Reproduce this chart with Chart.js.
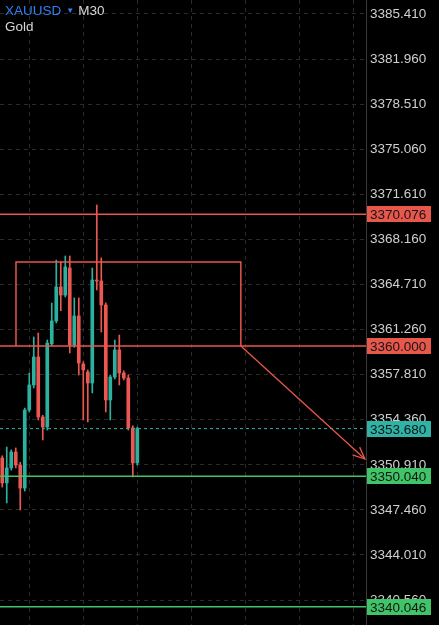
<!DOCTYPE html>
<html>
<head>
<meta charset="utf-8">
<script src="https://cdn.jsdelivr.net/npm/chart.js@4.4.0/dist/chart.umd.min.js"></script>
<style>
  html, body { margin: 0; padding: 0; background: #000; }
  #wrap { position: relative; width: 439px; height: 625px; overflow: hidden; }
  #header {
    position: absolute; left: 5px; top: 3px;
    font-family: "Liberation Sans", Roboto, sans-serif;
    font-size: 13.5px; line-height: 16px; color: #d8d8d8;
  }
  #header .sym { color: #2f80f5; }
  #header .caret { color: #2f80f5; font-size: 8px; margin: 0 4px 0 5px; vertical-align: 2px; }
</style>
</head>
<body>
<div id="wrap">
  <canvas id="chart" width="439" height="625"></canvas>
  <div id="header"><span class="sym">XAUUSD</span><span class="caret">▼</span>M30<br>Gold</div>
</div>

<script>
// --- XAUUSD M30 candles ---
const opens  = [3351.43, 3349.52, 3350.67, 3351.89, 3350.89, 3349.13, 3355.10, 3357.02, 3359.16, 3354.57,
                3353.80, 3360.16, 3361.92, 3364.52, 3363.90, 3365.97, 3360.08, 3362.30, 3358.62, 3358.01,
                3357.17, 3365.05, 3364.98, 3363.14, 3355.87, 3357.63, 3359.70, 3357.94, 3357.55, 3353.73, 3351.05];
const highs  = [3351.60, 3352.27, 3352.05, 3352.20, 3351.10, 3355.25, 3357.94, 3360.69, 3361.00, 3354.70,
                3360.46, 3363.29, 3366.58, 3366.43, 3366.89, 3366.89, 3363.68, 3363.68, 3358.80, 3358.17,
                3365.97, 3370.79, 3366.74, 3363.30, 3357.78, 3360.46, 3360.84, 3358.10, 3357.78, 3353.90, 3353.80];
const lows   = [3349.21, 3347.99, 3350.50, 3350.67, 3347.45, 3348.90, 3354.95, 3356.80, 3354.34, 3352.81,
                3353.57, 3360.00, 3361.77, 3362.70, 3363.75, 3359.47, 3359.90, 3357.78, 3354.34, 3354.19,
                3356.41, 3364.29, 3361.07, 3354.95, 3354.34, 3357.47, 3357.02, 3357.40, 3353.57, 3349.98, 3350.89];
const closes = [3349.52, 3350.67, 3351.89, 3350.89, 3349.13, 3355.10, 3357.02, 3359.16, 3354.57, 3353.80,
                3360.23, 3361.92, 3364.52, 3363.90, 3366.05, 3360.08, 3362.30, 3358.70, 3358.17, 3357.17,
                3365.05, 3364.98, 3363.14, 3355.87, 3357.63, 3359.70, 3357.94, 3357.55, 3353.73, 3351.05, 3353.68];

// horizontal levels + their price tags
const levelValues = [3370.076, 3360.000, 3353.680, 3350.040, 3340.046];
const levelColors = ['#e8574c', '#e8574c', '#2fb3a6', '#3fc468', '#3fc468'];
const levelDashed = [false, false, true, false, false];

// drawn zone (box) and projected arrow, in bar index / price units
const zoneX = [3.05, 53];
const zoneY = [3360.000, 3366.43];
const arrowX = [53, 80.55];
const arrowY = [3360.000, 3351.35];

// axes
const yTickValues = [3340.56, 3344.01, 3347.46, 3350.91, 3354.36, 3357.81, 3361.26,
                     3364.71, 3368.16, 3371.61, 3375.06, 3378.51, 3381.96, 3385.41];
const xGridValues = [6, 18, 30, 42, 54, 66, 78];
const xRange = [-0.5, 80.8];
const yRange = [3338.65, 3386.48];

const UP = '#2bb19f';
const DOWN = '#ec5851';
const GRID = '#2a2a2a';

const idx = opens.map((_, i) => i);
const candleColors = idx.map(i => closes[i] >= opens[i] ? UP : DOWN);

const datasets = [];

// level lines
levelValues.forEach((v, i) => {
    datasets.push({
        type: 'line',
        data: [{ x: xRange[0], y: v }, { x: xRange[1], y: v }],
        borderColor: levelColors[i],
        borderWidth: levelDashed[i] ? 1 : 1.5,
        borderDash: levelDashed[i] ? [3, 3] : [],
        pointRadius: 0,
        tension: 0
    });
});

// zone outline
datasets.push({
    type: 'line',
    data: [
        { x: zoneX[0], y: zoneY[0] }, { x: zoneX[0], y: zoneY[1] },
        { x: zoneX[1], y: zoneY[1] }, { x: zoneX[1], y: zoneY[0] }
    ],
    borderColor: '#e8574c',
    borderWidth: 1.5,
    pointRadius: 0,
    tension: 0
});

// arrow shaft
datasets.push({
    type: 'line',
    data: [{ x: arrowX[0], y: arrowY[0] }, { x: arrowX[1], y: arrowY[1] }],
    borderColor: '#e8574c',
    borderWidth: 1.3,
    pointRadius: 0,
    tension: 0
});

// candle bodies
datasets.push({
    type: 'bar',
    data: idx.map(i => ({ x: i, y: [opens[i], closes[i]] })),
    backgroundColor: candleColors,
    barThickness: 3,
    grouped: false
});

// candle wicks
datasets.push({
    type: 'bar',
    data: idx.map(i => ({ x: i, y: [lows[i], highs[i]] })),
    backgroundColor: candleColors,
    barThickness: 1,
    grouped: false
});

// price tags and arrow head on top of everything
const overlayPlugin = {
    id: 'overlay',
    afterDraw(chart) {
        const { ctx, chartArea, scales } = chart;

        // arrow head
        const x1 = scales.x.getPixelForValue(arrowX[0]);
        const y1 = scales.y.getPixelForValue(arrowY[0]);
        const x2 = scales.x.getPixelForValue(arrowX[1]);
        const y2 = scales.y.getPixelForValue(arrowY[1]);
        const ang = Math.atan2(y2 - y1, x2 - x1);
        const len = 13;
        ctx.save();
        ctx.strokeStyle = '#e8574c';
        ctx.lineWidth = 1.3;
        ctx.beginPath();
        ctx.moveTo(x2 - len * Math.cos(ang - 0.42), y2 - len * Math.sin(ang - 0.42));
        ctx.lineTo(x2, y2);
        ctx.lineTo(x2 - len * Math.cos(ang + 0.42), y2 - len * Math.sin(ang + 0.42));
        ctx.stroke();
        ctx.restore();

        // price tags
        ctx.save();
        ctx.font = '13.5px "Liberation Sans", Roboto, sans-serif';
        ctx.textBaseline = 'middle';
        ctx.textAlign = 'left';
        levelValues.forEach((v, i) => {
            const y = Math.round(scales.y.getPixelForValue(v));
            ctx.fillStyle = levelColors[i];
            ctx.fillRect(chartArea.right + 1, y - 8, 64, 16);
            ctx.fillStyle = '#141414';
            ctx.fillText(v.toFixed(3), chartArea.right + 4, y + 1);
        });
        ctx.restore();
    }
};

const bgPlugin = {
    id: 'bg',
    beforeDraw(chart) {
        const { ctx, width, height } = chart;
        ctx.save();
        ctx.fillStyle = '#000';
        ctx.fillRect(0, 0, width, height);
        ctx.restore();
    }
};

new Chart(document.getElementById('chart'), {
    type: 'bar',
    data: { datasets: datasets },
    options: {
        responsive: false,
        animation: false,
        layout: { padding: 0 },
        plugins: { legend: { display: false }, tooltip: { enabled: false } },
        scales: {
            x: {
                type: 'linear',
                min: xRange[0],
                max: xRange[1],
                offset: false,
                afterBuildTicks: (scale) => { scale.ticks = xGridValues.map(v => ({ value: v })); },
                afterFit: (scale) => { scale.height = 0; scale.paddingLeft = 0; scale.paddingRight = 0; },
                ticks: { display: false },
                grid: { color: GRID, drawTicks: false, offset: false },
                border: { display: false, dash: [4, 4] }
            },
            y: {
                type: 'linear',
                position: 'right',
                min: yRange[0],
                max: yRange[1],
                afterBuildTicks: (scale) => { scale.ticks = yTickValues.map(v => ({ value: v })); },
                afterFit: (scale) => { scale.width = 73; scale.paddingTop = 0; scale.paddingBottom = 0; },
                ticks: {
                    autoSkip: false,
                    padding: 4,
                    color: '#cfcfcf',
                    font: { family: '"Liberation Sans", Roboto, sans-serif', size: 13.5 },
                    callback: (v) => Number(v).toFixed(3)
                },
                grid: { color: GRID, drawTicks: false },
                border: { display: true, color: '#3a3a3a', width: 1, dash: [4, 4] }
            }
        }
    },
    plugins: [bgPlugin, overlayPlugin]
});
</script>
</body>
</html>
